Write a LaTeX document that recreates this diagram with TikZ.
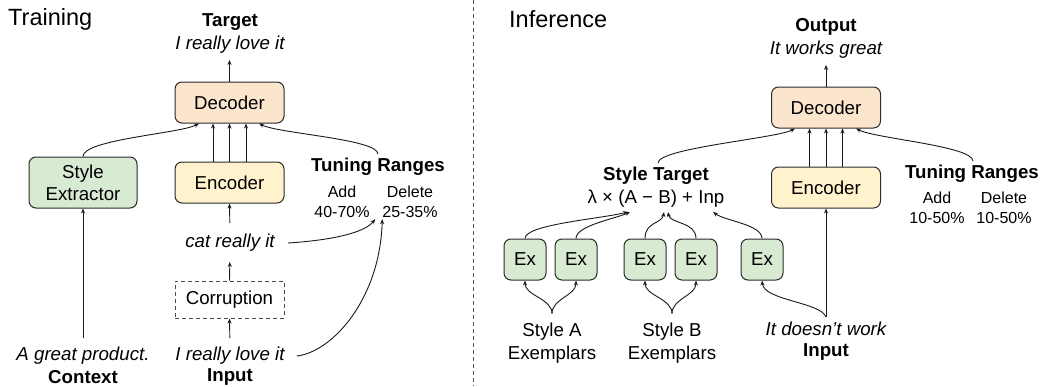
\documentclass[tikz,border=0pt]{standalone}
\usepackage{fontspec}
\setmainfont{Liberation Sans}
\usetikzlibrary{arrows.meta,calc}
\definecolor{orangefill}{HTML}{FCE5CD}
\definecolor{greenfill}{HTML}{D9EAD3}
\definecolor{yellowfill}{HTML}{FFF2CC}
\definecolor{strokec}{HTML}{2B2B2B}
\definecolor{linec}{HTML}{1A1A1A}
\tikzset{
  box/.style={draw=strokec, line width=1pt, rounded corners=7pt, minimum width=109pt,
    minimum height=41pt, inner sep=0pt, font=\fontsize{18.7}{22}\selectfont, align=center},
  decbox/.style={box, fill=orangefill},
  encbox/.style={box, fill=yellowfill},
  grnbox/.style={box, fill=greenfill},
  exbox/.style={grnbox, minimum width=42pt, minimum height=41pt},
  corrbox/.style={box, rounded corners=0pt, draw=strokec!85, dash pattern=on 4pt off 3pt, fill=white, minimum height=37pt},
  txt/.style={inner sep=0pt, font=\fontsize{18.7}{23}\selectfont, align=center},
  itxt/.style={inner sep=0pt, font=\fontsize{18.7}{23}\selectfont\itshape, align=center},
  btxt/.style={inner sep=0pt, font=\fontsize{18.7}{23}\selectfont\bfseries, align=center},
  stxt/.style={inner sep=0pt, font=\fontsize{16}{20}\selectfont, align=center},
  ttl/.style={inner sep=0pt, anchor=west, font=\fontsize{23.5}{28}\selectfont},
  conn/.style={draw=linec, line width=0.9pt, -{Stealth[length=5pt,width=4pt]}},
  divider/.style={draw=strokec!80, line width=1pt, dash pattern=on 4pt off 3pt},
}
\begin{document}
\begin{tikzpicture}[x=1pt,y=-1pt]
\useasboundingbox (0,0) rectangle (1042,386);
\fill[white] (0,0) rectangle (1042,386);

% divider
\coordinate (dtop) at (473,0);
\coordinate (dbot) at (473,386);
\draw[divider] (dtop) -- (dbot);

% ================= Training =================
\node[ttl] (train) at (8,19) {Training};

\node[btxt] (tgtb) at (230,22) {Target};
\node[itxt] (tgt) at (230,45) {I really love it};

\node[decbox] (dec) at (229.5,102.5) {Decoder};
\node[grnbox, minimum width=108pt, minimum height=51pt] (sx) at (83,182.5) {Style\\Extractor};
\node[encbox] (enc) at (229.5,182.5) {Encoder};

\node[btxt] (tr) at (378,167) {Tuning Ranges};
\node[stxt] (add) at (342,202) {Add\\40-70\%};
\node[stxt] (del) at (410,202) {Delete\\25-35\%};

\node[itxt] (cat) at (230,243) {cat really it};
\node[corrbox] (corr) at (229.5,299.5) {Corruption};

\node[itxt] (inp) at (230,356) {I really love it};
\node[btxt] (inpb) at (230,377) {Input};
\node[itxt] (ctx) at (83,356) {A great product.};
\node[btxt] (ctxb) at (83,377) {Context};

% connectors (training)
\draw[conn, shorten >=6pt] (dec.north) -- (dec.north |- tgt.south);
\foreach \dx in {-16.5,0,16.5}{
  \draw[conn] ($(enc.north)+(\dx,0)$) -- ($(dec.south)+(\dx,0)$);
}
\draw[conn] (sx.north) .. controls ($(sx.north)+(0,-17)$) and ($(dec.south)+(-49.5,10)$) .. ($(dec.south)+(-30.5,0)$);
\draw[conn] ($(tr.north)+(0,-4)$) .. controls ($(tr.north)+(0,-19)$) and ($(dec.south)+(48.5,10)$) .. ($(dec.south)+(29.5,0)$);
\draw[conn, shorten <=11pt] (cat.north) -- (enc.south);
\draw[conn, shorten >=10pt] (corr.north) -- (cat.south);
\draw[conn, shorten <=9pt] (inp.north) -- (corr.south);
\draw[conn, shorten <=9pt] (ctx.north) -- (sx.south);
\draw[conn] ($(cat.east)+(13,0)$) .. controls ($(cat.east)+(60,-3)$) and ($(del.south west)+(-17,14)$) .. ($(del.south west)+(-7,1)$);
\draw[conn] ($(inp.east)+(12,0)$) .. controls ($(inp.east)+(48,-4)$) and ($(del.south west)+(-2,80)$) .. ($(del.south west)+(0,1)$);

% ================= Inference =================
\node[ttl] (infer) at (509,19) {Inference};

\node[btxt] (outb) at (826,27) {Output};
\node[itxt] (out) at (826,50) {It works great};

\node[decbox] (dec2) at (826,107.5) {Decoder};
\node[encbox] (enc2) at (826,187.5) {Encoder};

\node[btxt] (st) at (656,176) {Style Target};
\node[txt] (form) at (656,199) {λ × (A − B) + Inp};

\node[btxt] (tr2) at (972,174) {Tuning Ranges};
\node[stxt] (add2) at (937,208) {Add\\10-50\%};
\node[stxt] (del2) at (1004,208) {Delete\\10-50\%};

\node[exbox] (ex1) at (525,259.5) {Ex};
\node[exbox] (ex2) at (576,259.5) {Ex};
\node[exbox] (ex3) at (645,259.5) {Ex};
\node[exbox] (ex4) at (696,259.5) {Ex};
\node[exbox] (ex5) at (762,259.5) {Ex};

\node[txt] (sa) at (552,343) {Style A\\Exemplars};
\node[txt] (sb) at (672,343) {Style B\\Exemplars};
\node[itxt] (idw) at (826,329) {It doesn’t work};
\node[btxt] (idwb) at (826,352) {Input};

% connectors (inference)
\draw[conn, shorten >=6pt] (dec2.north) -- (dec2.north |- out.south);
\foreach \dx in {-16.5,0,16.5}{
  \draw[conn] ($(enc2.north)+(\dx,0)$) -- ($(dec2.south)+(\dx,0)$);
}
\draw[conn] ($(st.north)+(2,-4)$) .. controls ($(st.north)+(2,-19)$) and ($(dec2.south)+(-50,10)$) .. ($(dec2.south)+(-31,0)$);
\draw[conn] ($(tr2.north)+(1,-4)$) .. controls ($(tr2.north)+(1,-19)$) and ($(dec2.south)+(49,10)$) .. ($(dec2.south)+(30,0)$);
\draw[conn, shorten <=5pt] (idw.north) -- (enc2.south);
\draw[conn] ($(idw.north)+(0,-5)$) .. controls ($(idw.north)+(-6,-20)$) and ($(ex5.south)+(2,20)$) .. (ex5.south);

\draw[conn] ($(sa.north)+(0,-9)$) .. controls ($(sa.north)+(0,-24)$) and ($(ex1.south)+(0,15)$) .. (ex1.south);
\draw[conn] ($(sa.north)+(0,-9)$) .. controls ($(sa.north)+(0,-24)$) and ($(ex2.south)+(0,15)$) .. (ex2.south);
\draw[conn] ($(sb.north)+(0,-9)$) .. controls ($(sb.north)+(0,-24)$) and ($(ex3.south)+(0,15)$) .. (ex3.south);
\draw[conn] ($(sb.north)+(0,-9)$) .. controls ($(sb.north)+(0,-24)$) and ($(ex4.south)+(0,15)$) .. (ex4.south);

\draw[conn] (ex1.north) .. controls ($(ex1.north)+(0,-14)$) and ($(form.south)+(-56,11)$) .. ($(form.south)+(-28,4)$);
\draw[conn] (ex2.north) .. controls ($(ex2.north)+(0,-13)$) and ($(form.south)+(-41,11)$) .. ($(form.south)+(-26,4)$);
\draw[conn] (ex3.north) .. controls ($(ex3.north)+(0,-17)$) and ($(form.south)+(6,16)$) .. ($(form.south)+(8,4)$);
\draw[conn] (ex4.north) .. controls ($(ex4.north)+(0,-17)$) and ($(form.south)+(14,16)$) .. ($(form.south)+(12,4)$);
\draw[conn] (ex5.north) .. controls ($(ex5.north)+(0,-14)$) and ($(form.south)+(69,13)$) .. ($(form.south)+(57,4)$);
\end{tikzpicture}
\end{document}
